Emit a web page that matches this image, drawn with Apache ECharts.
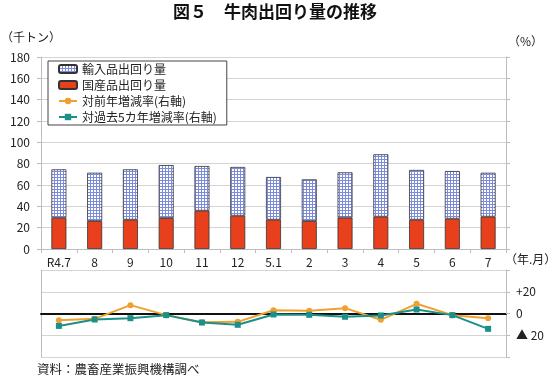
<!DOCTYPE html>
<html><head><meta charset="utf-8">
<script src="https://cdn.jsdelivr.net/npm/echarts@6/dist/echarts.min.js"></script>
<style>html,body{margin:0;padding:0;background:#fff}#c{width:550px;height:386px}</style>
</head><body><div id="c"></div>
<script>
const categories = ['R4.7','8','9','10','11','12','5.1','2','3','4','5','6','7'];
const domestic = [29.3, 26.2, 27.5, 29.0, 35.9, 31.2, 27.5, 26.2, 29.4, 30.3, 27.5, 28.4, 30.3];
const imported = [45.4, 45.3, 47.2, 49.7, 41.9, 45.7, 40.0, 39.1, 42.5, 58.5, 46.6, 44.7, 41.2];
const yoy = [-6.2, -4.9, 7.7, -1.5, -8.0, -7.7, 3.0, 2.5, 4.9, -5.8, 8.9, -1.5, -4.3];
const vs5yr = [-11.4, -5.5, -4.3, -1.5, -8.3, -10.4, -0.9, -1.2, -3.0, -1.8, 3.7, -1.5, -14.1];
const leftTicks = {min: 0, max: 180, interval: 20};
const rightTicks = {min: -40, max: 40, interval: 20};
const rightLabels = {'20': '+20', '0': '0', '-20': '▲ 20'};

const FONT = '"Noto Sans CJK JP", "Noto Sans", sans-serif';
const cv = document.createElement('canvas');
cv.width = 3; cv.height = 3;
const cx = cv.getContext('2d');
cx.fillStyle = '#ffffff'; cx.fillRect(0,0,3,3);
cx.fillStyle = '#7d8bdb'; cx.fillRect(0,0,3,1); cx.fillRect(0,0,1,3);
const pattern = {image: cv, repeat: 'repeat'};

const chart = echarts.init(document.getElementById('c'), null, {renderer: 'canvas'});
const gridLine = {lineStyle: {color: '#d4d4d4', width: 1}};
const axisLn = {show: true, lineStyle: {color: '#bdbdbd', width: 1}};
chart.setOption({
  animation: false,
  textStyle: {fontFamily: FONT},
  grid: [
    {left: 41, right: 44, top: 57, height: 192},
    {left: 41, right: 44, top: 270, height: 87}
  ],
  legend: {
    orient: 'vertical', left: 48, top: 61, width: 181,
    padding: [2, 10, 2, 10],
    borderColor: '#444', borderWidth: 1, backgroundColor: '#fff',
    itemWidth: 18, itemHeight: 8, itemGap: 4,
    textStyle: {fontSize: 12, color: '#222', fontFamily: FONT},
    data: ['輸入品出回り量', '国産品出回り量', '対前年増減率(右軸)', '対過去5カ年増減率(右軸)']
  },
  xAxis: [
    {type: 'category', gridIndex: 0, data: categories,
     axisLine: axisLn, axisTick: {show: true, length: 4, lineStyle: {color: '#bdbdbd'}},
     axisLabel: {fontSize: 12, color: '#222', margin: 7}},
    {type: 'category', gridIndex: 1, data: categories,
     axisLine: {show: true, onZero: true, lineStyle: {color: '#111', width: 2}},
     axisTick: {show: false}, axisLabel: {show: false}}
  ],
  yAxis: [
    {type: 'value', gridIndex: 0, position: 'left', min: leftTicks.min, max: leftTicks.max, interval: leftTicks.interval,
     axisLine: axisLn, axisTick: {show: true, length: 4, lineStyle: {color: '#bdbdbd'}},
     splitLine: gridLine, axisLabel: {fontSize: 12, color: '#222', margin: 11}},
    {type: 'value', gridIndex: 0, position: 'right', min: leftTicks.min, max: leftTicks.max, interval: leftTicks.interval,
     axisLine: axisLn, axisTick: {show: true, length: 4, lineStyle: {color: '#bdbdbd'}},
     splitLine: {show: false}, axisLabel: {show: false}},
    {type: 'value', gridIndex: 1, position: 'left', min: rightTicks.min, max: rightTicks.max, interval: rightTicks.interval,
     axisLine: axisLn, axisTick: {show: false}, splitLine: gridLine, axisLabel: {show: false}},
    {type: 'value', gridIndex: 1, position: 'right', min: rightTicks.min, max: rightTicks.max, interval: rightTicks.interval,
     axisLine: axisLn, axisTick: {show: true, length: 4, lineStyle: {color: '#bdbdbd'}},
     splitLine: {show: false},
     axisLabel: {fontSize: 12, color: '#222', margin: 10,
       formatter: v => rightLabels[String(v)] !== undefined ? rightLabels[String(v)] : ''}}
  ],
  series: [
    {name: '国産品出回り量', type: 'bar', stack: 'a', xAxisIndex: 0, yAxisIndex: 0, data: domestic, barWidth: 15,
     itemStyle: {color: '#e8401c', borderColor: '#333', borderWidth: 0.8}},
    {name: '輸入品出回り量', type: 'bar', stack: 'a', xAxisIndex: 0, yAxisIndex: 0, data: imported, barWidth: 15,
     itemStyle: {color: pattern, borderColor: '#333', borderWidth: 0.8}},
    {name: '対前年増減率(右軸)', type: 'line', xAxisIndex: 1, yAxisIndex: 3, data: yoy,
     symbol: 'circle', symbolSize: 6, lineStyle: {color: '#f0a030', width: 2}, itemStyle: {color: '#f0a030'}},
    {name: '対過去5カ年増減率(右軸)', type: 'line', xAxisIndex: 1, yAxisIndex: 3, data: vs5yr,
     symbol: 'rect', symbolSize: 6, lineStyle: {color: '#1a9088', width: 2}, itemStyle: {color: '#1a9088'}}
  ],
  graphic: [
    {type: 'text', left: 'center', top: 3, style: {text: '図５　牛肉出回り量の推移', font: 'bold 17px ' + FONT, fill: '#111'}},
    {type: 'text', left: 1, top: 31, style: {text: '（千トン）', font: '12px ' + FONT, fill: '#222'}},
    {type: 'text', left: 508, top: 35, style: {text: '（%）', font: '12px ' + FONT, fill: '#222'}},
    {type: 'text', left: 505, top: 253, style: {text: '（年.月）', font: '12px ' + FONT, fill: '#222'}},
    {type: 'text', left: 37, top: 363, style: {text: '資料：農畜産業振興機構調べ', font: '12.5px ' + FONT, fill: '#222'}}
  ]
});
</script></body></html>
